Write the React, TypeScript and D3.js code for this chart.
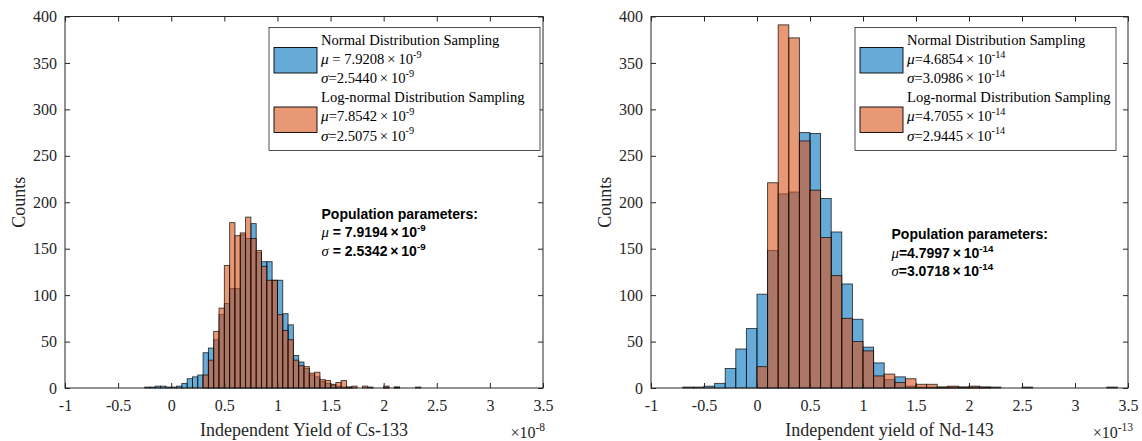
import React, { useEffect, useRef } from 'react'
import * as d3 from 'd3'

// Cs-133: bin starts in units of 1e-8, bin width 0.05
const csBins = [
  -0.25, -0.2, -0.15, -0.1, -0.05, 0, 0.05, 0.1, 0.15, 0.2, 0.25, 0.3, 0.35, 0.4, 0.45, 0.5, 0.55, 0.6,
  0.65, 0.7, 0.75, 0.8, 0.85, 0.9, 0.95, 1, 1.05, 1.1, 1.15, 1.2, 1.25, 1.3, 1.35, 1.4, 1.45, 1.5, 1.55,
  1.6, 1.65, 1.7, 1.75, 1.8, 1.85, 1.9, 1.95, 2, 2.05, 2.1, 2.15, 2.2, 2.25, 2.3,
]
const csNormal = [
  1, 1, 2, 2, 1, 1, 2, 5, 10, 12, 14, 38, 43, 52, 79, 91, 107, 107, 165, 161, 177, 146, 136, 136, 116,
  116, 80, 68, 35, 28, 21, 14, 12, 7, 5, 3, 2, 1, 1, 0, 0, 0, 1, 0, 0, 1, 0, 1, 0, 0, 0, 1,
]
const csLogNormal = [
  0, 0, 0, 0, 0, 0, 0, 0, 0, 0, 0, 14, 30, 61, 86, 132, 178, 164, 167, 184, 161, 148, 131, 116, 116,
  79, 62, 52, 30, 24, 23, 16, 17, 9, 8, 4, 6, 8, 1, 2, 0, 2, 0, 0, 0, 2, 0, 1, 0, 0, 0, 0,
]

// Nd-143: bin starts in units of 1e-13, bin width 0.1
const ndBins = [
  -0.7, -0.6, -0.5, -0.4, -0.3, -0.2, -0.1, 0, 0.1, 0.2, 0.3, 0.4, 0.5, 0.6, 0.7, 0.8, 0.9, 1, 1.1,
  1.2, 1.3, 1.4, 1.5, 1.6, 1.7, 1.8, 1.9, 2, 2.1, 2.2, 2.3, 2.4, 2.5, 3.3,
]
const ndNormal = [
  1, 1, 2, 5, 21, 42, 64, 101, 148, 209, 211, 275, 274, 204, 168, 112, 74, 44, 27, 9, 12, 2, 1, 1, 1, 1,
  1, 1, 1, 1, 0, 0, 1, 1,
]
const ndLogNormal = [
  0, 0, 0, 0, 0, 0, 0, 23, 221, 391, 377, 266, 213, 162, 121, 75, 50, 40, 13, 15, 6, 10, 4, 4, 1, 2, 1,
  2, 1, 0, 0, 0, 0, 0,
]

const xTicks = [-1, -0.5, 0, 0.5, 1, 1.5, 2, 2.5, 3, 3.5]
const yTicks = [0, 50, 100, 150, 200, 250, 300, 350, 400]

const csLegend = [
  'Normal Distribution Sampling',
  'μ = 7.9208×10^-9',
  'σ=2.5440×10^-9',
  'Log-normal Distribution Sampling',
  'μ=7.8542×10^-9',
  'σ=2.5075×10^-9',
]
const ndLegend = [
  'Normal Distribution Sampling',
  'μ=4.6854×10^-14',
  'σ=3.0986×10^-14',
  'Log-normal Distribution Sampling',
  'μ=4.7055×10^-14',
  'σ=2.9445×10^-14',
]
const csPopulation = ['Population parameters:', 'μ = 7.9194×10^-9', 'σ = 2.5342×10^-9']
const ndPopulation = ['Population parameters:', 'μ=4.7997×10^-14', 'σ=3.0718×10^-14']

const BLUE = '#0072BD'
const ORANGE = '#D95319'
const AXIS = '#262626'
const SERIF = '"Liberation Serif", "Times New Roman", serif'
const SANS = '"Liberation Sans", Arial, sans-serif'

// text with italic greek first letter and a ^superscript
function richText(g, str, x, y, size, family, weight) {
  const text = g
    .append('text')
    .attr('x', x)
    .attr('y', y)
    .attr('font-family', family)
    .attr('font-size', size)
    .attr('font-weight', weight)
    .attr('fill', '#000')
  let rest = str
  if (rest.startsWith('μ') || rest.startsWith('σ')) {
    text
      .append('tspan')
      .attr('font-family', SERIF)
      .attr('font-style', 'italic')
      .attr('font-weight', 'normal')
      .attr('font-size', size * 1.05)
      .text(rest[0])
    rest = rest.slice(1)
  }
  const [base, sup] = rest.split('^')
  text.append('tspan').text(base.replace('×', '\u2009×\u2009'))
  if (sup) text.append('tspan').attr('dy', -size * 0.42).attr('font-size', size * 0.7).text(sup)
  return text
}

function drawPanel(svg, cfg) {
  const x = d3.scaleLinear().domain([-1, 3.5]).range([cfg.left, cfg.right])
  const y = d3.scaleLinear().domain([0, 400]).range([388, 16.5])
  const g = svg.append('g')

  // bars
  const series = [
    { values: cfg.normal, color: BLUE },
    { values: cfg.logNormal, color: ORANGE },
  ]
  series.forEach((s) => {
    g.append('g')
      .selectAll('rect')
      .data(cfg.bins.map((b, i) => ({ b, c: s.values[i] })).filter((d) => d.c > 0))
      .join('rect')
      .attr('x', (d) => x(d.b))
      .attr('width', (d) => x(d.b + cfg.binWidth) - x(d.b))
      .attr('y', (d) => y(d.c))
      .attr('height', (d) => y(0) - y(d.c))
      .attr('fill', s.color)
      .attr('fill-opacity', 0.6)
      .attr('stroke', '#000')
      .attr('stroke-opacity', 0.75)
      .attr('stroke-width', 0.9)
  })

  // axes, ticks pointing inward on all four sides
  const styleAxis = (a) => {
    a.select('.domain').remove()
    a.selectAll('line').attr('stroke', AXIS)
    a.selectAll('text').attr('font-family', SERIF).attr('font-size', 16).attr('fill', AXIS)
  }
  g.append('g')
    .attr('transform', `translate(0,${y(0)})`)
    .call(d3.axisBottom(x).tickValues(xTicks).tickSize(-5).tickPadding(11.3).tickFormat((d) => String(d)))
    .call(styleAxis)
  g.append('g')
    .attr('transform', `translate(0,${y(400)})`)
    .call(d3.axisTop(x).tickValues(xTicks).tickSize(-5).tickFormat(() => ''))
    .call(styleAxis)
  g.append('g')
    .attr('transform', `translate(${x(-1)},0)`)
    .call(d3.axisLeft(y).tickValues(yTicks).tickSize(-5).tickPadding(8))
    .call(styleAxis)
  g.append('g')
    .attr('transform', `translate(${x(3.5)},0)`)
    .call(d3.axisRight(y).tickValues(yTicks).tickSize(-5).tickFormat(() => ''))
    .call(styleAxis)
  g.append('rect')
    .attr('x', x(-1))
    .attr('y', y(400))
    .attr('width', x(3.5) - x(-1))
    .attr('height', y(0) - y(400))
    .attr('fill', 'none')
    .attr('stroke', AXIS)
    .attr('stroke-width', 1)

  // axis labels
  g.append('text')
    .attr('x', (x(-1) + x(3.5)) / 2)
    .attr('y', 436)
    .attr('text-anchor', 'middle')
    .attr('font-family', SERIF)
    .attr('font-size', 18)
    .attr('fill', AXIS)
    .text(cfg.xLabel)
  g.append('text')
    .attr('transform', `translate(${x(-1) - 40},${(y(0) + y(400)) / 2}) rotate(-90)`)
    .attr('text-anchor', 'middle')
    .attr('font-family', SERIF)
    .attr('font-size', 18)
    .attr('fill', AXIS)
    .text('Counts')
  const ex = g
    .append('text')
    .attr('x', x(3.5) + cfg.expShift)
    .attr('y', 438)
    .attr('text-anchor', 'end')
    .attr('font-family', SERIF)
    .attr('font-size', 16)
    .attr('fill', AXIS)
  ex.append('tspan').text('×10')
  ex.append('tspan').attr('dy', -7).attr('font-size', 11.5).text(cfg.exponent)

  // legend
  const lg = g.append('g')
  lg.append('rect')
    .attr('x', cfg.legendX)
    .attr('y', 27.5)
    .attr('width', cfg.legendW)
    .attr('height', 123)
    .attr('fill', '#fff')
    .attr('stroke', AXIS)
    .attr('stroke-width', 0.8)
  ;[BLUE, ORANGE].forEach((c, i) => {
    lg.append('rect')
      .attr('x', cfg.legendX + 5)
      .attr('y', 47.5 + i * 59.5)
      .attr('width', 43)
      .attr('height', 25.5)
      .attr('fill', c)
      .attr('fill-opacity', 0.6)
      .attr('stroke', '#000')
      .attr('stroke-width', 0.9)
  })
  cfg.legend.forEach((line, i) => {
    richText(lg, line, cfg.legendX + 52, 45 + i * 19.1, 14.6, SERIF, 'normal')
  })

  // population parameter note
  cfg.population.forEach((line, i) => {
    richText(g, line, cfg.popX, cfg.popY + i * 18.5, 14, SANS, 'bold')
  })
}

function App() {
  const ref = useRef(null)

  useEffect(() => {
    const svg = d3.select(ref.current)
    svg.selectAll('*').remove()
    drawPanel(svg, {
      left: 65,
      right: 543,
      bins: csBins,
      binWidth: 0.05,
      normal: csNormal,
      logNormal: csLogNormal,
      xLabel: 'Independent Yield of Cs-133',
      exponent: '-8',
      expShift: 2,
      legend: csLegend,
      legendX: 269,
      legendW: 271,
      population: csPopulation,
      popX: 321.5,
      popY: 218.5,
    })
    drawPanel(svg, {
      left: 651,
      right: 1128,
      bins: ndBins,
      binWidth: 0.1,
      normal: ndNormal,
      logNormal: ndLogNormal,
      xLabel: 'Independent yield of Nd-143',
      exponent: '-13',
      expShift: 5,
      legend: ndLegend,
      legendX: 855,
      legendW: 261,
      population: ndPopulation,
      popX: 891.5,
      popY: 239,
    })
  }, [])

  return (
    <svg
      ref={ref}
      width={1142}
      height={441}
      style={{ position: 'absolute', left: 0, top: 0, background: '#fff' }}
    />
  )
}

export default App
